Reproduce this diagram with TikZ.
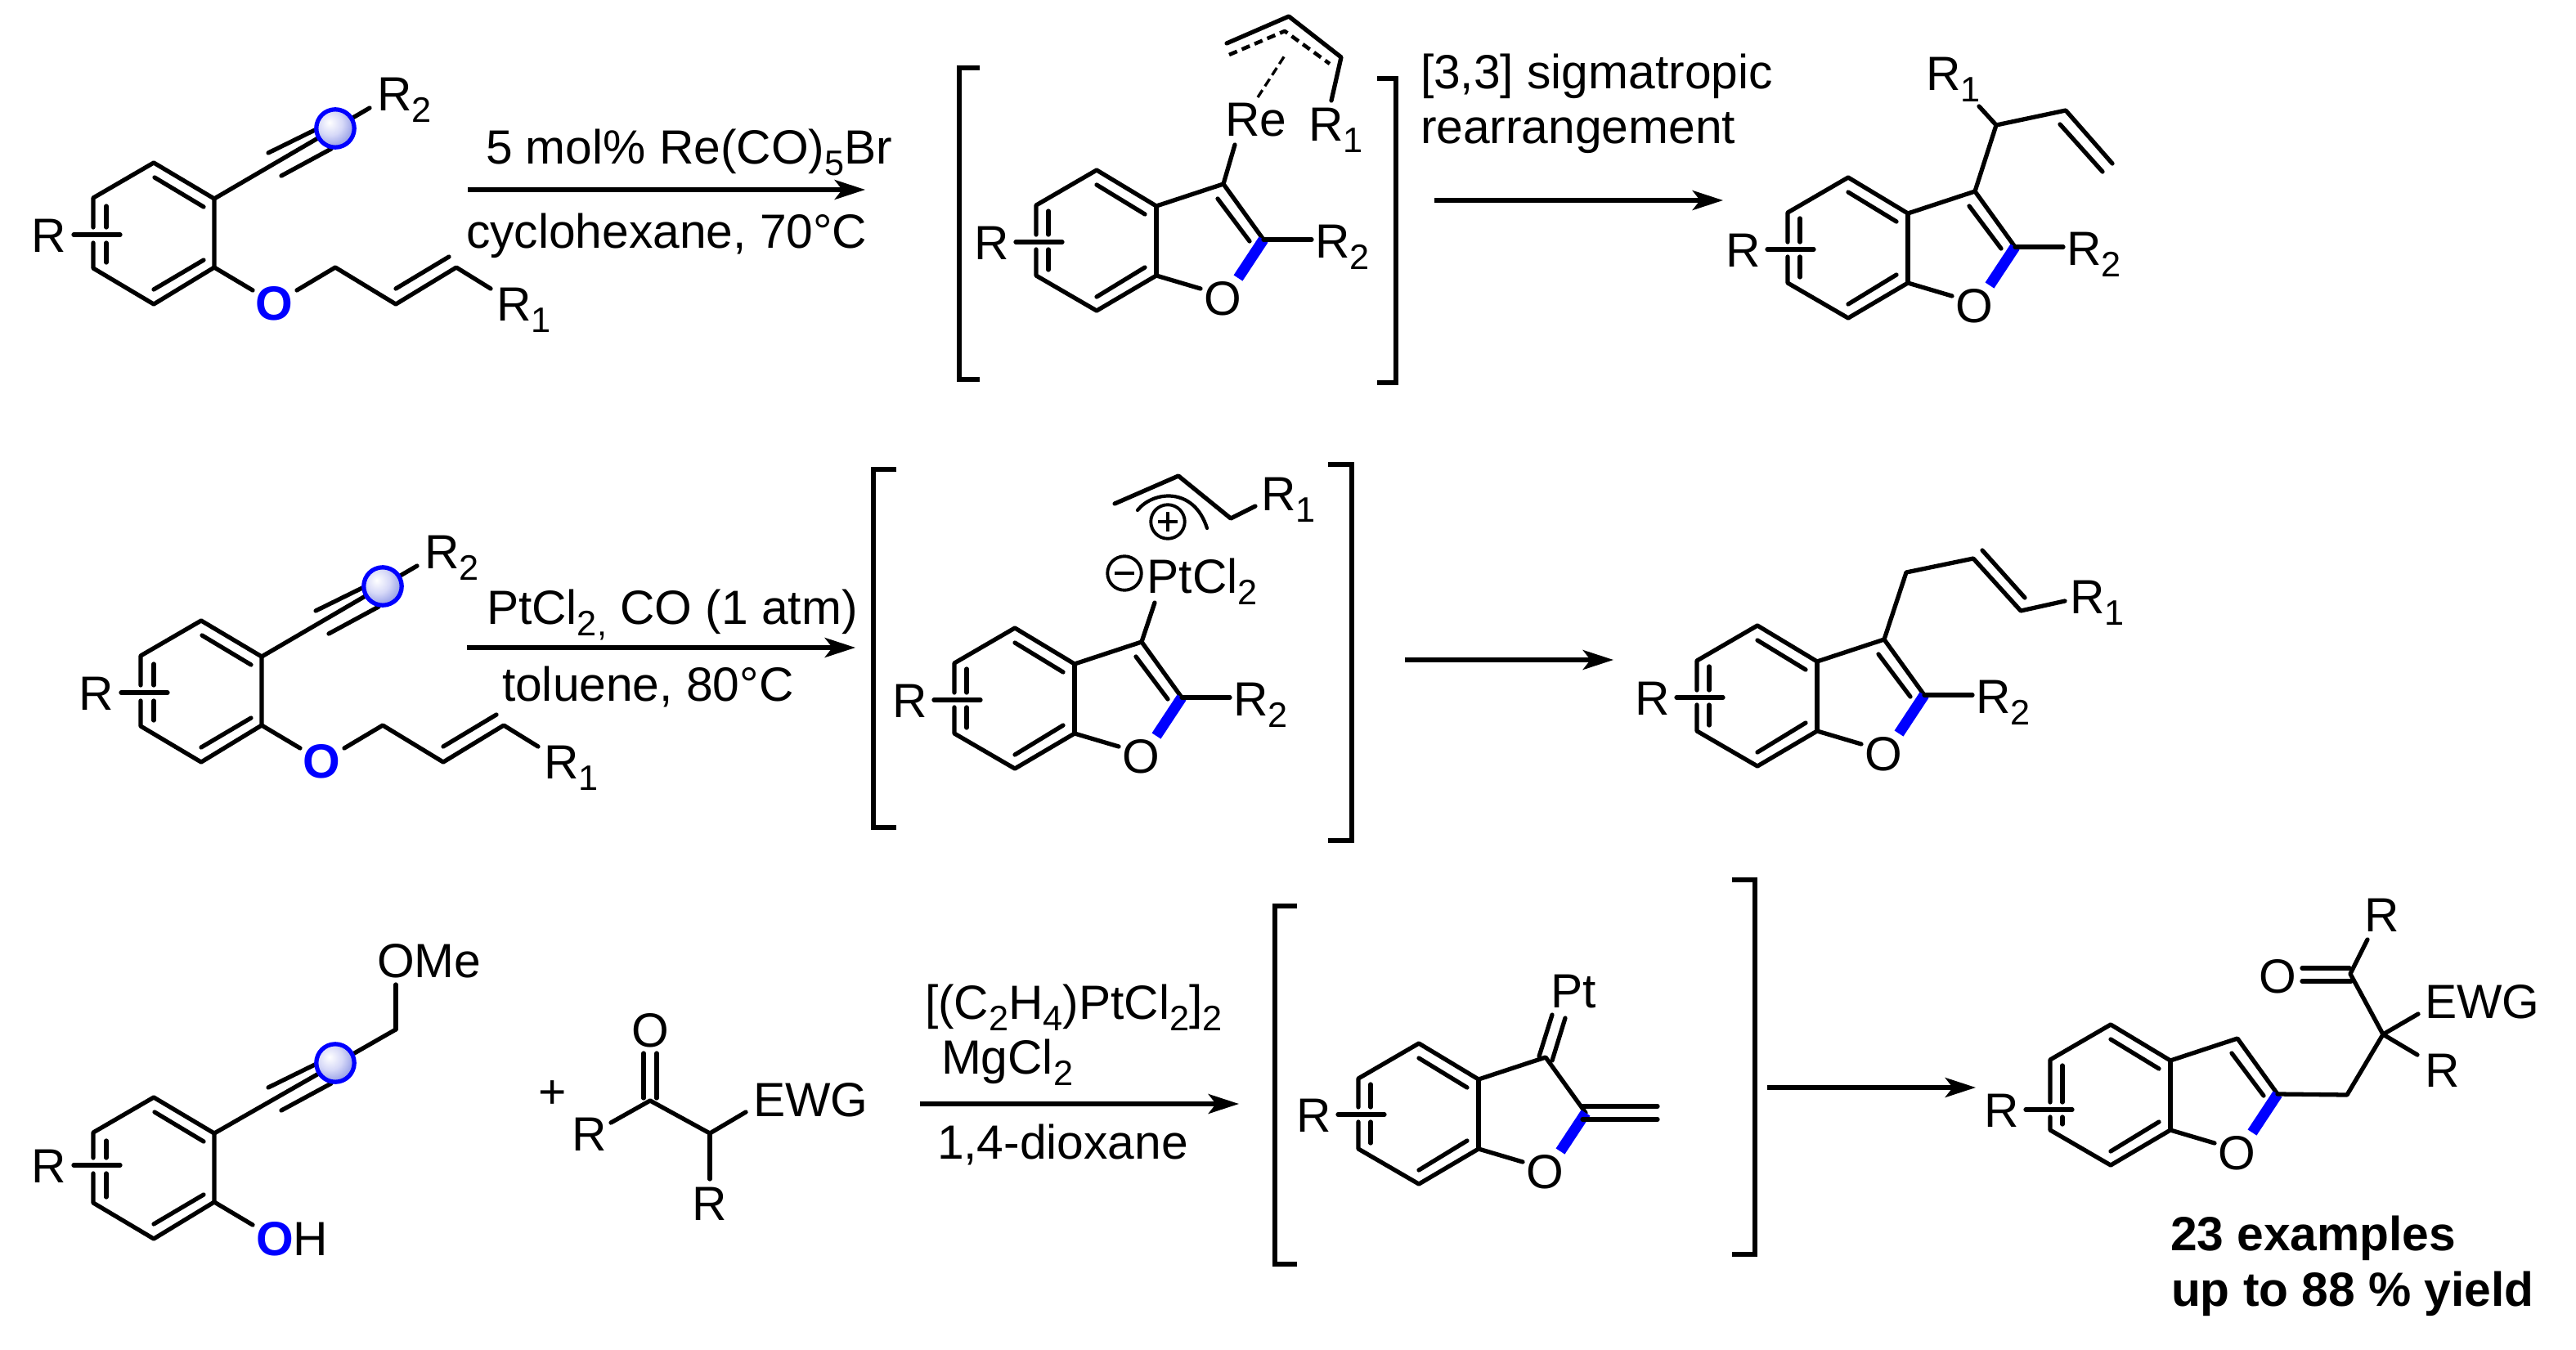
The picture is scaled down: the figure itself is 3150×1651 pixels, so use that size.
\documentclass[tikz,border=0pt]{standalone}
\usepackage{fontspec}
\setmainfont{Liberation Sans}
\usetikzlibrary{arrows.meta}
\definecolor{pureblue}{RGB}{0,0,255}
\pgfdeclareradialshading{beadshade}{\pgfpoint{-8bp}{8bp}}{rgb(0bp)=(1,1,1); rgb(16bp)=(.84,.85,.97); rgb(40bp)=(.42,.47,.86); rgb(100bp)=(.3,.35,.82)}
\newcommand{\tsub}[1]{\raisebox{-4.2pt}{\fontsize{12.3}{14}\selectfont #1}}
\tikzset{
  bond/.style={line width=1.5pt,line cap=round,line join=round,black},
  bluebond/.style={line width=3.7pt,line cap=butt,pureblue},
  rxn/.style={line width=1.6pt,black,-{Stealth[length=10.6pt,width=6.8pt,inset=2.6pt]}},
  brack/.style={line width=1.6pt,line join=miter,black},
  dashb/.style={line width=1.3pt,dash pattern=on 3pt off 1.8pt,line join=round},
  dashthin/.style={line width=.95pt,dash pattern=on 3pt off 1.6pt},
  chem/.style={inner sep=0pt,outer sep=0pt,anchor=base west,font=\fontsize{16.7}{20}\selectfont},
  chemc/.style={chem,anchor=base},
  bead/.style={circle,draw=pureblue,line width=1.5pt,minimum size=13.2pt,inner sep=0pt,shading=beadshade},
  chg/.style={circle,draw=black,line width=1.1pt,minimum size=11.8pt,inner sep=0pt},
  chgbar/.style={line width=1.1pt,black}
}
% benzofuran core, in the coordinates of the first intermediate
% #1 prefix, #2 y of the ring substituent, #3 x offset of the substituent
\newcommand{\bfcore}[3]{%
  \coordinate (#1a) at (1341,208);
  \coordinate (#1b) at (1414,252);
  \coordinate (#1c) at (1414,337);
  \coordinate (#1d) at (1341,380);
  \coordinate (#1e) at (1267,337);
  \coordinate (#1f) at (1267,251);
  \coordinate (#1g) at (1496,225);
  \coordinate (#1h) at (1545,293);
  \draw[bond] (1267,#2-9) -- (#1f) -- (#1a) -- (#1b) -- (#1c) -- (#1d) -- (#1e) -- (1267,#2+9);
  \draw[bond] (#1b) -- (#1c);
  \draw[bond] (1341,226) -- (1400,262);
  \draw[bond] (1400,327) -- (1341,363);
  \draw[bond] (1282,258) -- (1282,#2-9);
  \draw[bond] (1282,#2+9) -- (1282,330);
  \draw[bond] (#1b) -- (#1g) -- (#1h);
  \draw[bond] (#1c) -- (1468,353);
  \draw[bluebond] (#1h) -- (1514,340);
  \node[chemc] (#1O) at (1495,385) {O};
  \draw[bond] (1242+#3,#2) -- (1299+#3,#2);
  \node[chem] (#1R) at (1191.5+#3,#2+21) {R};
}
\newcommand{\bfdouble}{\draw[bond] (1489,243) -- (1528,295);}
\newcommand{\bfRtwo}[1]{%
  \draw[bond] (#1h) -- (1604,293);
  \node[chem] (#1Rb) at (1608.5,315) {R\tsub{2}};
}
% aryl alkyne, in the coordinates of the first substrate
% #1 prefix, #2 y of the ring substituent, #3 free end of the alkyne bond
\newcommand{\arylcore}[3]{%
  \coordinate (#1a) at (188,199);
  \coordinate (#1b) at (262,243);
  \coordinate (#1c) at (262,327);
  \coordinate (#1d) at (188,372);
  \coordinate (#1e) at (114,328);
  \coordinate (#1f) at (114,242);
  \coordinate (#1k) at #3;
  \draw[bond] (114,#2-9) -- (#1f) -- (#1a) -- (#1b) -- (#1c) -- (#1d) -- (#1e) -- (114,#2+10);
  \draw[bond] (189,217) -- (249,253);
  \draw[bond] (249,318) -- (188,354);
  \draw[bond] (130,252) -- (130,#2-9);
  \draw[bond] (130,#2+10) -- (130,321);
  \draw[bond] (90,#2) -- (147,#2);
  \node[chem] (#1R) at (38.5,#2+21) {R};
  \draw[bond] (#1b) -- (#1k);
  \draw[bond] (328,187) -- (387,158);
  \draw[bond] (344,215) -- (405,182);
  \node[bead] (#1bead) at (410,157) {};
}
\newcommand{\etherchain}[1]{%
  \node[chemc] (#1O) at (335,391) {\color{pureblue}\bfseries O};
  \coordinate (#1m) at (410,327);
  \coordinate (#1n) at (484,372);
  \coordinate (#1p) at (558,327);
  \draw[bond] (#1c) -- (309,355);
  \draw[bond] (363,355) -- (#1m) -- (#1n) -- (#1p) -- (600,353);
  \draw[bond] (484,353) -- (549,314);
  \node[chem] (#1Rb) at (461.5,135) {R\tsub{2}};
  \node[chem] (#1Ra) at (607.5,392) {R\tsub{1}};
}
\begin{document}
\begin{tikzpicture}[x=0.01cm,y=-0.01cm]
\useasboundingbox (0,0) rectangle (3150,1651);
% ---------- row 1
\begin{scope}
  \arylcore{sa}{287}{(452,132)}
  \etherchain{sa}
\end{scope}
\coordinate (ar1s) at (572,232);
\coordinate (ar1e) at (1058,232);
\draw[rxn] (ar1s) -- (ar1e);
\node[chem] (t1a) at (594,200) {5 mol\% Re(CO)\tsub{5}Br};
\node[chem] (t1b) at (570,303) {cyclohexane, 70°C};
\draw[brack] (1198,83) -- (1173,83) -- (1173,464) -- (1198,464);
\draw[brack] (1684,96) -- (1707,96) -- (1707,468) -- (1684,468);
\begin{scope}
  \bfcore{ia}{296}{0}
  \bfdouble
  \bfRtwo{ia}
\end{scope}
\node[chem] (iaRe) at (1498.5,166) {Re};
\draw[bond] (iag) -- (1510,177);
\coordinate (iaq) at (1500,53);
\coordinate (iar) at (1576,20);
\coordinate (ias) at (1640,70);
\coordinate (iat) at (1628,123);
\draw[bond] (iaq) -- (iar) -- (ias) -- (iat);
\draw[dashb] (1503,67) -- (1571,38) -- (1626,78);
\draw[dashthin] (1538,119) -- (1571,68);
\node[chem] (iaRa) at (1600.5,172) {R\tsub{1}};
\node[chem] (t2a) at (1737,108) {[3,3] sigmatropic};
\node[chem] (t2b) at (1737,175) {rearrangement};
\coordinate (ar2s) at (1754,245);
\coordinate (ar2e) at (2107,245);
\draw[rxn] (ar2s) -- (ar2e);
\begin{scope}[shift={(919,9)}]
  \bfcore{pa}{296}{0}
  \bfdouble
  \bfRtwo{pa}
\end{scope}
\coordinate (paq) at (2441,153);
\coordinate (par) at (2526,135);
\coordinate (pas) at (2583,200);
\draw[bond] (pag) -- (paq) -- (par) -- (pas);
\draw[bond] (paq) -- (2420,130);
\draw[bond] (2519,152) -- (2571,210);
\node[chem] (paRa) at (2355.5,110) {R\tsub{1}};
% ---------- row 2
\begin{scope}[shift={(58,560)}]
  \arylcore{sb}{287}{(452,132)}
  \etherchain{sb}
\end{scope}
\coordinate (ar3s) at (571,792);
\coordinate (ar3e) at (1046,792);
\draw[rxn] (ar3s) -- (ar3e);
\node[chem] (t3a) at (595,763) {PtCl\tsub{2,} CO (1 atm)};
\node[chem] (t3b) at (614,857) {toluene, 80°C};
\draw[brack] (1096,574) -- (1068,574) -- (1068,1012) -- (1096,1012);
\draw[brack] (1624,568) -- (1653,568) -- (1653,1028) -- (1624,1028);
\begin{scope}[shift={(-100,560)}]
  \bfcore{ib}{296}{0}
  \bfdouble
  \bfRtwo{ib}
\end{scope}
\node[chem] (ibPt) at (1402.5,725) {PtCl\tsub{2}};
\draw[bond] (ibg) -- (1412,737);
\node[chg] (ibminus) at (1375,701) {};
\draw[chgbar] ([xshift=-3.4pt]ibminus.center) -- ([xshift=3.4pt]ibminus.center);
\node[chg] (ibplus) at (1428,638) {};
\draw[chgbar] ([xshift=-3.4pt]ibplus.center) -- ([xshift=3.4pt]ibplus.center);
\draw[chgbar] ([yshift=-3.4pt]ibplus.center) -- ([yshift=3.4pt]ibplus.center);
\coordinate (ibq) at (1363,616);
\coordinate (ibr) at (1441,582);
\coordinate (ibs) at (1505,634);
\coordinate (ibt) at (1535,619);
\draw[bond] (ibq) -- (ibr) -- (ibs) -- (ibt);
\draw[bond,line width=1.2pt] (1391,624) .. controls (1410,600) and (1460,595) .. (1476,646);
\node[chem] (ibRa) at (1542.5,624) {R\tsub{1}};
\coordinate (ar4s) at (1718,807);
\coordinate (ar4e) at (1973,807);
\draw[rxn] (ar4s) -- (ar4e);
\begin{scope}[shift={(808,557)}]
  \bfcore{pb}{296}{0}
  \bfdouble
  \bfRtwo{pb}
\end{scope}
\coordinate (pbq) at (2331,700);
\coordinate (pbr) at (2413,683);
\coordinate (pbs) at (2471,747);
\coordinate (pbt) at (2525,735);
\draw[bond] (pbg) -- (pbq) -- (pbr) -- (pbs) -- (pbt);
\draw[bond] (2424,673) -- (2476,731);
\node[chem] (pbRa) at (2531.5,750) {R\tsub{1}};
% ---------- row 3
\begin{scope}[shift={(0,1143)}]
  \arylcore{sc}{282}{(484,116)}
  \draw[bond] (sck) -- (484,61);
  \draw[bond] (scc) -- (309,355);
\end{scope}
\node[chem] (scOMe) at (461,1195) {OMe};
\node[chem] (scOH) at (313,1535) {{\color{pureblue}\bfseries O}H};
\node[chemc] (plus) at (676,1355) {+};
\node[chemc] (kO) at (795,1280) {O};
\coordinate (kC) at (795,1346);
\coordinate (kD) at (868,1386);
\draw[bond] (787,1288) -- (787,1343);
\draw[bond] (803,1288) -- (803,1343);
\draw[bond] (747,1373) -- (kC) -- (kD) -- (912,1360);
\draw[bond] (kD) -- (868,1442);
\node[chem] (kRa) at (699.5,1407) {R};
\node[chem] (kEWG) at (921,1365) {EWG};
\node[chem] (kRb) at (846.5,1492) {R};
\coordinate (ar5s) at (1125,1350);
\coordinate (ar5e) at (1515,1350);
\draw[rxn] (ar5s) -- (ar5e);
\node[chem] (t5a) at (1131,1246) {[(C\tsub{2}H\tsub{4})PtCl\tsub{2}]\tsub{2}};
\node[chem] (t5b) at (1151,1313) {MgCl\tsub{2}};
\node[chem] (t5c) at (1146,1417) {1,4-dioxane};
\draw[brack] (1586,1108) -- (1559,1108) -- (1559,1546) -- (1586,1546);
\draw[brack] (2118,1076) -- (2146,1076) -- (2146,1534) -- (2118,1534);
\begin{scope}[shift={(394,1068)}]
  \bfcore{ic}{295}{0}
\end{scope}
\draw[bond] (1898,1241) -- (1882,1292);
\draw[bond] (1914,1245) -- (1898,1297);
\node[chem] (icPt) at (1896.5,1232) {Pt};
\draw[bond] (1935,1353) -- (2027,1353);
\draw[bond] (1935,1369) -- (2027,1369);
\coordinate (ar6s) at (2161,1330);
\coordinate (ar6e) at (2416,1330);
\draw[rxn] (ar6s) -- (ar6e);
\begin{scope}[shift={(1240,1045)}]
  \bfcore{pc}{312}{-5}
  \bfdouble
\end{scope}
\coordinate (pcq) at (2870,1339);
\coordinate (pcr) at (2914,1265);
\coordinate (pcs) at (2874,1191);
\draw[bond] (pch) -- (pcq) -- (pcr) -- (pcs) -- (2895,1149);
\draw[bond] (pcr) -- (2957,1240);
\draw[bond] (pcr) -- (2956,1290);
\draw[bond] (2815,1184) -- (2873,1184);
\draw[bond] (2815,1200) -- (2875,1200);
\node[chem] (pcRa) at (2891.5,1139) {R};
\node[chemc] (pcOb) at (2785,1214) {O};
\node[chem] (pcEWG) at (2965,1245) {EWG};
\node[chem] (pcRb) at (2965.5,1329) {R};
\node[chem,font=\fontsize{16.7}{20}\selectfont\bfseries] (cap1) at (2654,1529) {23 examples};
\node[chem,font=\fontsize{16.7}{20}\selectfont\bfseries] (cap2) at (2655,1597) {up to 88 \% yield};
\end{tikzpicture}
\end{document}
